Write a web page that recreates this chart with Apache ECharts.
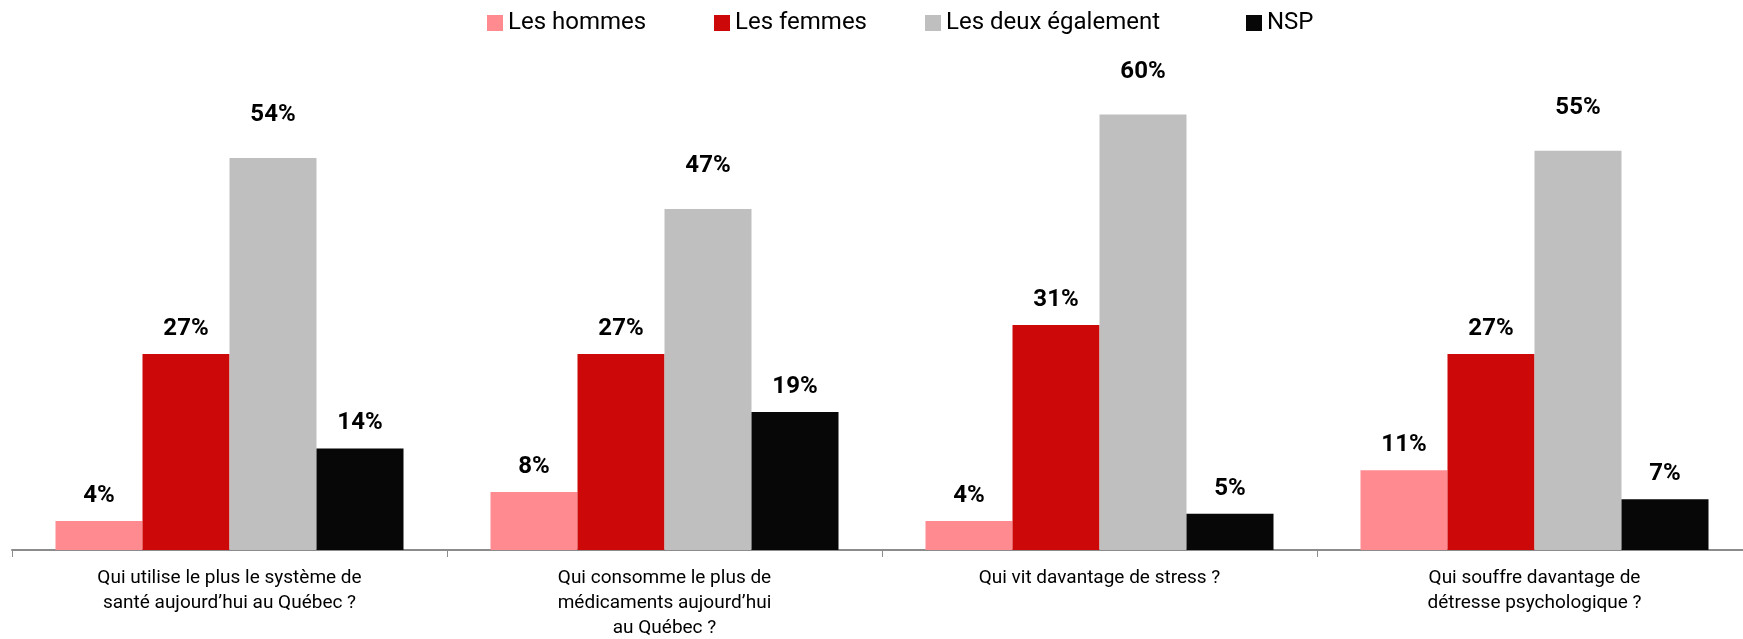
<!DOCTYPE html>
<html lang="fr">
<head>
  <meta charset="UTF-8">
  <title>Chart</title>
  <script src="https://cdn.jsdelivr.net/npm/echarts@6/dist/echarts.min.js"></script>
  <style>
    html, body { margin: 0; padding: 0; background: #fff; }
    #main { width: 1743px; height: 639px; }
  </style>
</head>
<body>

<div id="main"></div>

<script>
  var categories = [
    'Qui utilise le plus le système de\nsanté aujourd’hui au Québec ?',
    'Qui consomme le plus de\nmédicaments aujourd’hui\nau Québec ?',
    'Qui vit davantage de stress ?',
    'Qui souffre davantage de\ndétresse psychologique ?'
  ];
  var seriesNames = ['Les hommes', 'Les femmes', 'Les deux également', 'NSP'];
  var hommes = [4, 8, 4, 11];
  var femmes = [27, 27, 31, 27];
  var deux = [54, 47, 60, 55];
  var nsp = [14, 19, 5, 7];
  var colors = ['#ff8a8f', '#cc0808', '#bfbfbf', '#070707'];

  var font = 'Roboto, "Liberation Sans", sans-serif';

  function bar(name, data, color, dist) {
    return {
      name: name,
      type: 'bar',
      data: data,
      barGap: '0%',
      barCategoryGap: '20%',
      itemStyle: { color: color },
      label: {
        show: true,
        position: 'top',
        distance: dist,
        formatter: '{c}%',
        color: '#000',
        fontWeight: 'bold',
        fontSize: 24,
        fontFamily: font
      }
    };
  }

  // one legend per item so each can sit where the original puts it
  var legendLeft = [487, 714, 925, 1246];
  var legends = seriesNames.map(function (n, i) {
    return {
      top: 11,
      left: legendLeft[i],
      padding: 0,
      itemWidth: 16,
      itemHeight: 16,
      icon: 'rect',
      textStyle: { fontSize: 24, color: '#000', fontFamily: font },
      data: [n]
    };
  });

  var chart = echarts.init(document.querySelector('#main'));
  chart.setOption({
    animation: false,
    textStyle: { fontFamily: font },
    legend: legends,
    grid: { left: 12, right: -9, top: 42, bottom: 89, outerBoundsMode: 'none', containLabel: false },
    xAxis: {
      type: 'category',
      data: categories,
      axisLine: { lineStyle: { color: '#8c8c8c', width: 2 } },
      axisTick: { show: true, length: 7, lineStyle: { color: '#8c8c8c', width: 1 } },
      axisLabel: {
        color: '#000',
        fontSize: 19,
        lineHeight: 25,
        margin: 16,
        fontFamily: font
      }
    },
    yAxis: {
      type: 'value',
      min: 0,
      max: 70,
      show: false,
      splitLine: { show: false }
    },
    series: [
      bar(seriesNames[0], hommes, colors[0], 13),
      bar(seriesNames[1], femmes, colors[1], 13),
      bar(seriesNames[2], deux, colors[2], 31),
      bar(seriesNames[3], nsp, colors[3], 13)
    ]
  });
</script>
</body>
</html>
